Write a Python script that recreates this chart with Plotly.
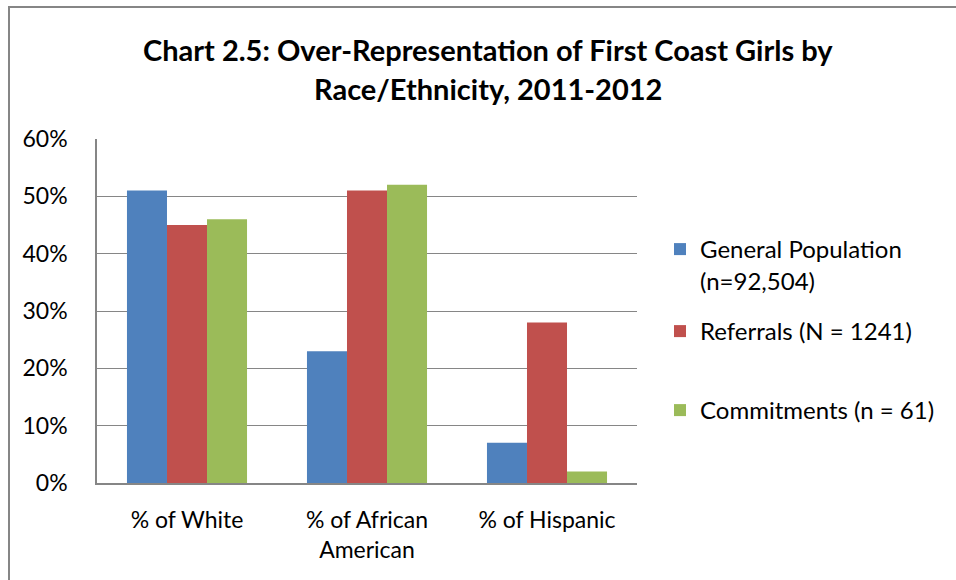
import plotly.graph_objects as go

categories = ["% of White", "% of African<br>American", "% of Hispanic"]
general_population = [0.51, 0.23, 0.07]
referrals = [0.45, 0.51, 0.28]
commitments = [0.46, 0.52, 0.02]
series_names = ["General Population<br>(n=92,504)", "Referrals (N = 1241)", "Commitments (n = 61)"]
colors = ["#4F81BD", "#C0504D", "#9BBB59"]
tick_vals = [0, 0.1, 0.2, 0.3, 0.4, 0.5, 0.6]
tick_text = ["0%", "10%", "20%", "30%", "40%", "50%", "60%"]
title_lines = ["Chart 2.5: Over-Representation of First Coast Girls by", "Race/Ethnicity, 2011-2012"]

FONT = "Lato"
GRID = "#868686"

fig = go.Figure()
legends = ["legend", "legend2", "legend3"]
for vals, name, col, lg in zip([general_population, referrals, commitments], series_names, colors, legends):
    fig.add_trace(go.Bar(x=categories, y=vals, name=name, marker=dict(color=col, line=dict(width=0)),
                         legend=lg))

W, H = 956, 580
L, R, T, B = 97, 637, 139, 483
pw, ph = R - L, B - T

def px(x):
    return (x - L) / pw

def py(y):
    return (B - y) / ph

legend_common = dict(font=dict(family=FONT, size=24, color="#000000"), bgcolor="rgba(0,0,0,0)",
                     xanchor="left", yanchor="top", valign="top", itemwidth=30, tracegroupgap=0)

fig.update_layout(
    width=W, height=H,
    margin=dict(l=L, r=W - R, t=T, b=H - B, pad=0),
    paper_bgcolor="white", plot_bgcolor="white",
    barmode="group", bargap=0.333, bargroupgap=0,
    font=dict(family=FONT, size=23, color="#000000"),
    showlegend=True,
    legend=dict(x=px(660), y=py(227), **legend_common),
    legend2=dict(x=px(660), y=py(309), **legend_common),
    legend3=dict(x=px(660), y=py(388), **legend_common),
    xaxis=dict(showgrid=False, showline=True, linecolor=GRID, linewidth=1.6,
               tickfont=dict(family=FONT, size=23, color="#000000"), ticks="",
               ticklabelstandoff=16, fixedrange=True),
    yaxis=dict(range=[0, 0.6], tickvals=tick_vals, ticktext=tick_text, showgrid=True,
               gridcolor=GRID, gridwidth=1.4, showline=True, linecolor=GRID, linewidth=1.6,
               tickfont=dict(family=FONT, size=23, color="#000000"), ticks="",
               ticklabelstandoff=23, zeroline=False, fixedrange=True),
    annotations=[
        dict(text="<b>%s</b>" % title_lines[0], x=px(488), y=py(49), xref="paper", yref="paper",
             xanchor="center", yanchor="middle", showarrow=False,
             font=dict(family=FONT, size=29, color="#000000")),
        dict(text="<b>%s</b>" % title_lines[1], x=px(488), y=py(89), xref="paper", yref="paper",
             xanchor="center", yanchor="middle", showarrow=False,
             font=dict(family=FONT, size=29, color="#000000")),
    ],
    shapes=[
        dict(type="rect", xref="paper", yref="paper", x0=px(9), x1=px(1000), y0=py(640), y1=py(7),
             line=dict(color="#868686", width=2), fillcolor="rgba(0,0,0,0)", layer="below"),
    ],
)

fig.write_html("out.html", config={"displayModeBar": False},
               post_script="document.body.style.margin='0';")
